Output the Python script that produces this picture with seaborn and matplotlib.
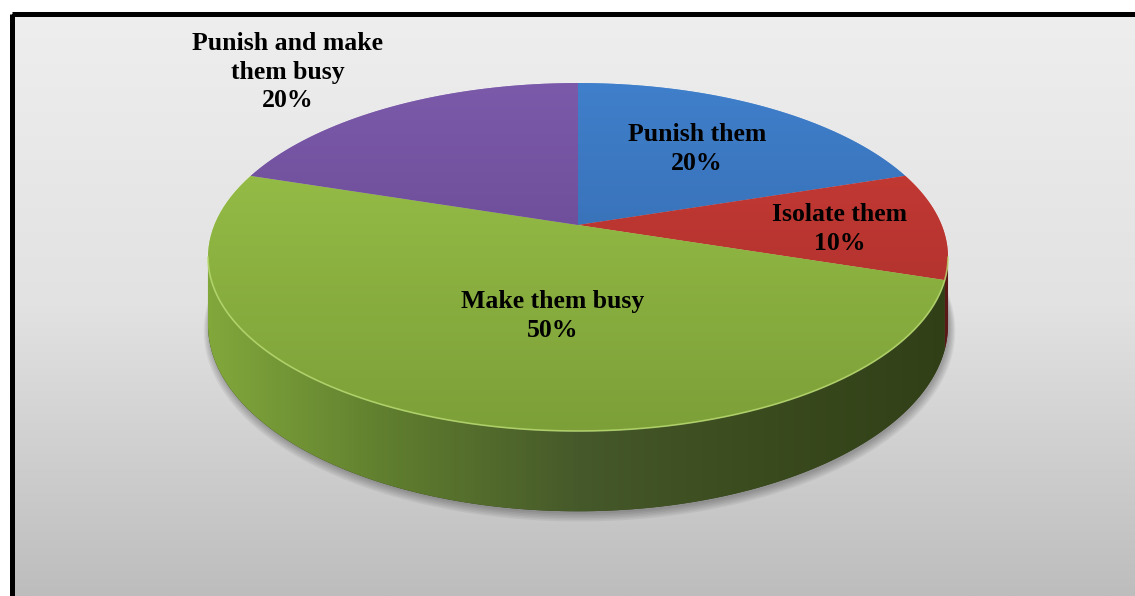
import numpy as np
import matplotlib
matplotlib.use("Agg")
import matplotlib.pyplot as plt
import seaborn as sns
from matplotlib.patches import Rectangle, Polygon
from matplotlib.colors import LinearSegmentedColormap
from matplotlib.transforms import Transform
from matplotlib.path import Path

# ---------------- data ----------------
categories = ["Punish them", "Isolate them", "Make them busy", "Punish and make\nthem busy"]
shares = [20, 10, 50, 20]
pct_labels = ["20%", "10%", "50%", "20%"]
top_colors_light = ["#407fcb", "#cd3d37", "#9cc54a", "#7c5aab"]
top_colors_dark = ["#2f63a3", "#a22c29", "#7c9f38", "#5d3f85"]
side_colors = [["#2a4a78", "#1f3558"],
               ["#7a2220", "#5a1816"],
               ["#82a83c", "#5f7d2e", "#46592a", "#3a4b1e", "#313f17"],
               ["#4a3270", "#3a2658"]]

sns.set_theme(style="white")
plt.rcParams["font.family"] = ["Liberation Serif", "DejaVu Serif"]

W, H = 1135, 596
# perspective view of the unit circle (pixel space, y down)
X0, Y0, A, B, BP, HDEPTH = 578.0, 225.0, 363.7, 168.1, 0.184, 65.5


class Persp(Transform):
    input_dims = 2
    output_dims = 2
    is_separable = False
    has_inverse = False

    def __init__(self, drop=0.0):
        super().__init__()
        self.drop = drop

    def transform_non_affine(self, values):
        values = np.asarray(values, float)
        u, v = values[:, 0], values[:, 1]
        f = 1.0 / (1.0 + BP * v)
        return np.c_[X0 + A * u * f, Y0 - B * v * f + self.drop * f]

    def transform_path_non_affine(self, path):
        pts = []
        for seg, code in path.iter_bezier():
            if code == Path.MOVETO:
                pts.append(seg.control_points[0])
                continue
            t = np.linspace(0, 1, 24)[1:]
            pts.extend(seg(t))
        pts = np.asarray(pts)
        return Path(self.transform_non_affine(pts), closed=True)


fig = plt.figure(figsize=(W / 100, H / 100), dpi=100)
fig.patch.set_facecolor("white")

# background axes in pixel coordinates
bg = fig.add_axes([0, 0, 1, 1])
bg.set_xlim(0, W)
bg.set_ylim(H, 0)
bg.axis("off")
bg.set_zorder(0)
cmap_bg = LinearSegmentedColormap.from_list("bg", ["#eeeeee", "#e2e2e2", "#bdbdbd"])
bg.imshow(np.linspace(0, 1, 256)[:, None], extent=[12, W, H, 14], cmap=cmap_bg, aspect="auto", zorder=0)
bg.add_patch(Rectangle((12.3, 14.2), W + 20, H + 20, fill=False, ec="black", lw=3.6, zorder=1))

# pie axes
ax = fig.add_axes([0, 0, 1, 1])
ax.patch.set_alpha(0)
ax.set_zorder(1)
wedges, _ = ax.pie(shares, startangle=90, counterclock=False, center=(0, 0), radius=1,
                   colors=top_colors_light, wedgeprops=dict(linewidth=0.6, edgecolor=(1, 1, 1, 0.35)))
ax.set_aspect("auto")
ax.set_xlim(0, W)
ax.set_ylim(H, 0)
ax.axis("off")
top_tr = Persp(0.0) + ax.transData

# soft shadow under the pie
th = np.linspace(0, 2 * np.pi, 300)
for i in range(6):
    s = 1.0 + 0.003 * i
    pts = np.c_[s * np.cos(th), s * np.sin(th)]
    pts = Persp(HDEPTH + 2 + i * 0.6).transform_non_affine(pts) + np.array([1.5, 0])
    ax.add_patch(Polygon(pts, closed=True, fc="black", ec="none", alpha=0.05, zorder=1))

# side walls: visible between the two silhouette angles
lo_vis = 180 + np.degrees(np.arcsin(BP))
hi_vis = 360 - np.degrees(np.arcsin(BP))
bounds = 90 - 3.6 * np.concatenate([[0], np.cumsum(shares)])
for i in range(len(shares)):
    a1, a2 = bounds[i + 1], bounds[i]
    a1m = a1 % 360
    a2m = a1m + (a2 - a1)
    for off in (0, 360, -360):
        lo = max(a1m + off, lo_vis)
        hi = min(a2m + off, hi_vis)
        if hi > lo:
            t = np.radians(np.linspace(lo, hi, 150))
            uv = np.c_[np.cos(t), np.sin(t)]
            top = Persp(0.0).transform_non_affine(uv)
            bot = Persp(HDEPTH).transform_non_affine(uv[::-1])
            poly = Polygon(np.vstack([top, bot]), closed=True, fc=side_colors[i][-1], ec="none", zorder=2)
            ax.add_patch(poly)
            cm = LinearSegmentedColormap.from_list("s%d" % i, side_colors[i])
            im = ax.imshow(np.linspace(0, 1, 256)[None, :], extent=[X0 - 372, X0 + 372, H, 0],
                           cmap=cm, aspect="auto", zorder=2.1)
            im.set_clip_path(poly)

# top face with gradient fill
for i, w in enumerate(wedges):
    w.set_transform(top_tr)
    w.set_zorder(3)
    cm = LinearSegmentedColormap.from_list("t%d" % i, [top_colors_light[i], top_colors_dark[i]])
    im = ax.imshow(np.linspace(0, 1, 256)[:, None], extent=[X0 - 372, X0 + 372, 435, 80],
                   cmap=cm, aspect="auto", zorder=3.1)
    im.set_clip_path(w)

# light rim along the front edge
t = np.radians(np.linspace(lo_vis, hi_vis, 200))
rim = Persp(0.0).transform_non_affine(np.c_[np.cos(t), np.sin(t)])
ax.plot(rim[:, 0], rim[:, 1], color="#b8da70", lw=1.2, alpha=0.8, zorder=3.5)

ax.set_xlim(0, W)
ax.set_ylim(H, 0)

# labels overlay
ov = fig.add_axes([0, 0, 1, 1])
ov.patch.set_alpha(0)
ov.set_xlim(0, W)
ov.set_ylim(H, 0)
ov.axis("off")
ov.set_zorder(2)
label_pos = [(697, 149), (840, 229), (553, 316), (288, 72)]
for cat, pct, (x, y) in zip(categories, pct_labels, label_pos):
    ov.text(x, y, cat + "\n" + pct, ha="center", va="center", fontsize=18.5,
            fontweight="bold", color="black", linespacing=1.3)

fig.savefig("out.png", dpi=100)
